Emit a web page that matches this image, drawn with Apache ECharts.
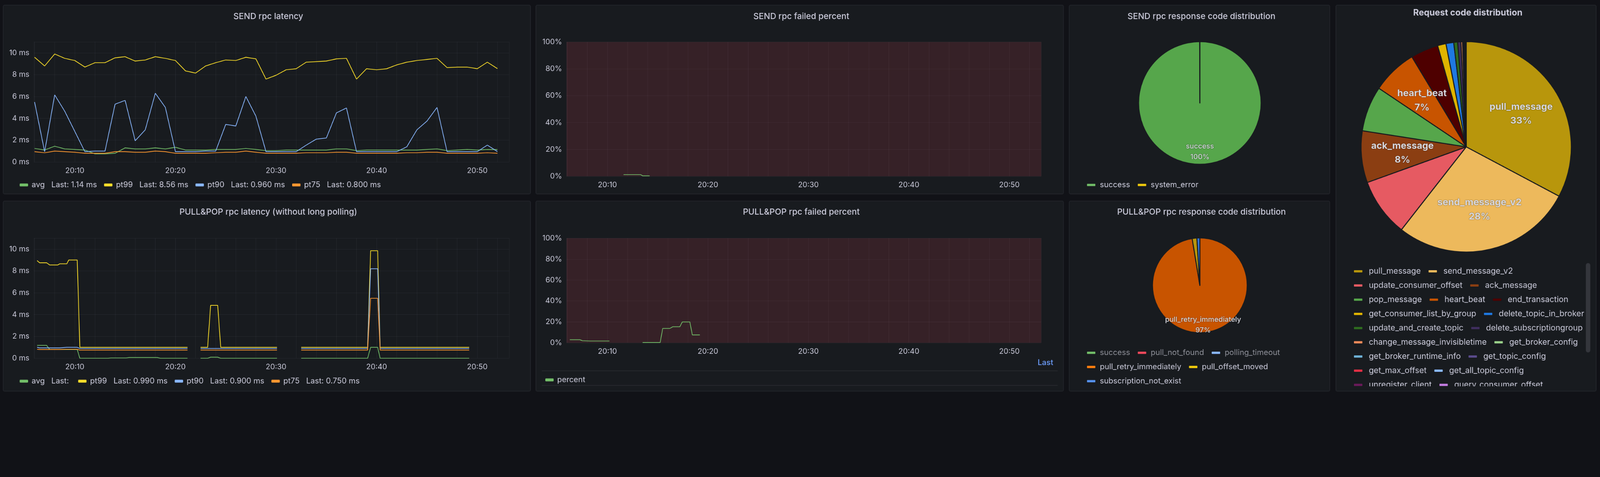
<!DOCTYPE html>
<html><head><meta charset="utf-8">
<script src="https://cdn.jsdelivr.net/npm/echarts@6/dist/echarts.min.js"></script>
<style>html,body{margin:0;padding:0;background:#111217;overflow:hidden;}#c{width:4962px;height:1220px;transform-origin:0 0;}</style>
</head><body><div id="c"></div>
<script>
// ---------- DATA ----------
const sendMinutes = [6,7,8,9,10,11,12,13,14,15,16,17,18,19,20,21,22,23,24,25,26,27,28,29,30,31,32,33,34,35,36,37,38,39,40,41,42,43,44,45,46,47,48,49,50,51,52];
const sendAvg  = [1.25,1.1,1.45,1.2,1.15,1.1,0.75,0.75,0.8,1.3,1.2,1.2,1.3,1.2,1.35,1.1,1.1,1.1,1.15,1.15,1.15,1.25,1.15,1.05,1.05,1.1,1.1,1.1,1.1,1.1,1.2,1.2,1.05,1.1,1.1,1.1,1.1,1.1,1.1,1.15,1.2,1.05,1.1,1.15,1.1,1.15,1.14];
const sendPt99 = [9.6,8.8,9.9,9.5,9.3,8.7,9.1,9.1,9.55,9.65,9.25,9.35,9.65,9.5,9.3,8.35,8.15,8.8,9.1,9.35,9.3,9.6,9.45,7.6,7.95,8.45,8.55,9.15,9.2,9.25,9.45,9.5,7.6,8.55,8.45,8.55,8.9,9.15,9.3,9.4,9.5,8.65,8.7,8.7,8.55,9.15,8.56];
const sendPt90 = [5.5,0.95,6.15,4.65,2.8,0.95,1.0,1.0,5.3,5.65,1.95,2.95,6.3,5.0,0.95,0.95,0.95,1.0,1.0,3.45,3.3,6.0,4.2,0.95,0.95,0.95,0.95,1.55,2.1,2.2,4.5,4.95,0.95,0.95,0.95,0.95,0.95,1.4,2.95,3.75,5.0,0.95,0.95,0.95,0.95,1.55,0.96];
const sendPt75 = [0.95,0.85,1.0,0.95,0.9,0.8,0.8,0.8,0.95,0.95,0.9,0.9,1.0,0.95,0.8,0.8,0.8,0.8,0.85,0.9,0.9,1.0,0.9,0.8,0.8,0.8,0.8,0.85,0.85,0.85,0.9,0.9,0.8,0.8,0.8,0.8,0.8,0.85,0.85,0.9,0.9,0.8,0.8,0.8,0.8,0.85,0.8];
const sendLast = ['1.14 ms','8.56 ms','0.960 ms','0.800 ms'];

const pullMinutes = [6.25,6.5,7.2,7.5,8.3,8.5,9.2,9.4,10.24,10.5,13.3,13.6,15.1,15.4,18.2,18.5,21.2,21.8,22.5,23.2,23.5,24.2,24.5,30.1,31.3,32.5,39.1,39.4,40.1,40.35,49.2];
const pullAvg  = [1.18,1.18,1.18,0.8,0.8,0.8,0.8,0.8,0.8,0,0,0.03,0.03,0.07,0.07,0,0,null,0,0,0.1,0.1,0,0,null,0,0,1.0,1.0,0,0];
const pullPt99 = [8.95,8.75,8.75,8.55,8.55,8.65,8.65,9.0,9.0,1.0,1.0,1.0,1.0,1.0,1.0,1.0,1.0,null,1.0,1.0,4.85,4.85,1.0,1.0,null,1.0,1.0,9.85,9.85,1.0,1.0];
const pullPt90 = [1.0,0.95,0.95,0.95,0.95,0.95,1.0,1.0,1.0,0.9,0.9,0.9,0.9,0.9,0.9,0.9,0.9,null,0.9,0.9,0.9,0.9,0.9,0.9,null,0.9,0.9,8.2,8.2,0.9,0.9];
const pullPt75 = [0.82,0.8,0.8,0.8,0.8,0.8,0.82,0.82,0.82,0.75,0.75,0.75,0.75,0.75,0.75,0.75,0.75,null,0.75,0.75,0.75,0.75,0.75,0.75,null,0.75,0.75,5.5,5.5,0.75,0.75];
const pullLast = ['','0.990 ms','0.900 ms','0.750 ms'];

const sendFailMinutes = [11.6,13.3,13.5,14.2];
const sendFailPct = [1.2,1.2,0.3,0.3];
const pullFailMinutes = [6.25,7.25,7.5,8.3,10.2,11,13.5,15.25,15.5,16.2,16.5,17.2,17.45,18.2,18.45,19.2];
const pullFailPct = [2.9,2.9,2.0,1.7,1.7,null,0.3,0.3,13.7,13.7,15.3,15.3,19.9,19.9,7.5,7.5];

const latencyNames = ['avg','pt99','pt90','pt75'];
const latencyColors = ['#73BF69','#FADE2A','#8AB8FF','#FF9830'];
const timeTicks = ['20:10','20:15','20:20','20:25','20:30','20:35','20:40','20:45','20:50'];

const sendCodeNames = ['success','system_error'];
const sendCodeValues = [99.95,0.05];
const sendCodeColors = ['#56A64B','#F2CC0C'];

const pullCodeNames = ['success','pull_not_found','polling_timeout','pull_retry_immediately','pull_offset_moved','subscription_not_exist'];
const pullCodeValues = [0,0,0,97.4,1.6,1.0];
const pullCodeColors = ['#73BF69','#F2495C','#8AB8FF','#C85400','#B8960C','#3274D9'];

const reqNames = ['pull_message','send_message_v2','update_consumer_offset','ack_message','pop_message','heart_beat','end_transaction','get_consumer_list_by_group','delete_topic_in_broker','update_and_create_topic','delete_subscriptiongroup','change_message_invisibletime','get_broker_config','get_broker_runtime_info','get_topic_config','get_max_offset','get_all_topic_config','unregister_client','query_consumer_offset'];
const reqValues = [33,28,9,8,7,7,4.3,1.3,1.2,0.6,0.5,0.25,0.15,0.12,0.1,0.08,0.06,0.03,0.02];
const reqColors = ['#B8960C','#EDB95C','#E65A62','#8B3E12','#56A64B','#C85400','#4E0000','#E0B400','#1F78E0','#2E6B1F','#3F2E5E','#F08A5A','#9AD18A','#6EB1D6','#5A4B8C','#E02F44','#8AB8FF','#6A1A5A','#C27CE0'];
const reqLegendRows = [[0,1],[2,3],[4,5,6],[7,8],[9,10],[11,12],[13,14],[15,16],[17,18]];

// ---------- HELPERS ----------
const BASE = Date.UTC(2024,0,1,20,0,0);
const t = m => BASE + m*60000;
const zip = (ms, vs) => ms.map((m,i)=>[t(m), vs[i]]);
const TXT = '#ccccdc', FONT = 'Inter';
const gridLine = {show:true, lineStyle:{color:'rgba(204,204,220,0.09)', width:1}};
const PANEL = '#181b1f';

const grids=[], xAxes=[], yAxes=[], series=[], titles=[], legends=[], graphics=[];

function panel(x,y,w,h){ graphics.push({type:'rect', shape:{x,y,width:w,height:h,r:4}, style:{fill:PANEL, stroke:'#24262c', lineWidth:2}, z:-10, silent:true}); }
function title(text,cx,cy,size,weight){ titles.push({text, left:cx, top:cy-16, textAlign:'center', textStyle:{color:TXT, fontSize:size||26, fontWeight:weight||500, fontFamily:FONT}}); }

function timeGrid(left,top,right,bottom,yMax,yInt,yFmt){
  const gi = grids.length;
  grids.push({left, top, width:right-left, height:bottom-top, containLabel:false});
  xAxes.push({type:'time', gridIndex:gi, min:t(5.93), max:t(53.17), splitNumber:10, minInterval:300000, maxInterval:300000,
    axisLine:{show:false}, axisTick:{show:false}, splitLine:gridLine,
    axisLabel:{color:TXT, fontSize:23, fontFamily:FONT, margin:16, showMinLabel:false, showMaxLabel:false, hideOverlap:false,
      formatter: v => { const d=new Date(v); const s=String(d.getUTCHours()).padStart(2,'0')+':'+String(d.getUTCMinutes()).padStart(2,'0'); return timeTicks.includes(s)?s:''; }}});
  yAxes.push({type:'value', gridIndex:gi, min:0, max:yMax, interval:yInt, axisLine:{show:false}, axisTick:{show:false}, splitLine:gridLine,
    axisLabel:{color:TXT, fontSize:23, fontFamily:FONT, margin:14, showMaxLabel: yMax===100, formatter:yFmt}});
  return gi;
}

// Panel backgrounds
panel(10,16,1635,585); panel(1662,16,1636,585); panel(3316,16,808,585);
panel(10,623,1635,589); panel(1662,623,1636,589); panel(3316,623,808,589);
panel(4143,16,807,1196);

// ---------- Latency panels ----------
function latencyPanel(left,top,bottom,ms,cols,names,lasts,legTop,ttl,tcy){
  title(ttl,827,tcy);
  const gi = timeGrid(left,top,1579,bottom,11,2,v=>v+' ms');
  cols.forEach((vals,i)=>{
    series.push({type:'line', name:names[i], xAxisIndex:gi, yAxisIndex:gi, data:zip(ms,vals), showSymbol:false, connectNulls:false,
      lineStyle:{width:2.2,color:latencyColors[i]}, itemStyle:{color:latencyColors[i]}, z:3+i});
  });
  const lastMap = {}; names.forEach((n,i)=>lastMap[n]=lasts[i]);
  legends.push({data:names, left:56, top:legTop, itemWidth:26, itemHeight:9, itemGap:22, icon:'roundRect',
    textStyle:{color:TXT, fontSize:24, fontFamily:FONT, padding:[0,0,0,6]},
    formatter:n=> n+'   Last: '+lastMap[n]});
}
latencyPanel(105,130,502,sendMinutes,[sendAvg,sendPt99,sendPt90,sendPt75],latencyNames,sendLast,556,'SEND rpc latency',49);
latencyPanel(105,738,1110,pullMinutes,[pullAvg,pullPt99,pullPt90,pullPt75],latencyNames.map(n=>n),pullLast,1164,'PULL&POP rpc latency (without long polling)',655);

// ---------- Failed percent panels ----------
function failPanel(top,bottom,ms,vals,ttl,tcy){
  title(ttl,2480,tcy);
  const gi = timeGrid(1757,top,3229,bottom,100,20,v=>v+'%');
  series.push({type:'line', name:'percent', xAxisIndex:gi, yAxisIndex:gi, data:zip(ms,vals), showSymbol:false, connectNulls:false,
    lineStyle:{width:2.2,color:'#73BF69'}, itemStyle:{color:'#73BF69'}, z:5,
    markArea:{silent:true, itemStyle:{color:'rgba(242,73,92,0.14)'}, data:[[{yAxis:0},{yAxis:100}]]}});
  return gi;
}
failPanel(130,546,sendFailMinutes,sendFailPct,'SEND rpc failed percent',49);
failPanel(738,1062,pullFailMinutes,pullFailPct,'PULL&POP rpc failed percent',655);
legends.push({data:['percent'], left:1686, top:1160, itemWidth:26, itemHeight:9, icon:'roundRect', textStyle:{color:TXT,fontSize:24,fontFamily:FONT,padding:[0,0,0,6]}});
graphics.push({type:'text', left:3218, top:1112, style:{text:'Last', fill:'#6E9FFF', font:'500 24px Inter'}, z:5});
graphics.push({type:'rect', shape:{x:1680,y:1148,width:1600,height:2}, style:{fill:'#2a2c31'}, z:5, silent:true});
graphics.push({type:'rect', shape:{x:1680,y:1193,width:1600,height:2}, style:{fill:'#2a2c31'}, z:5, silent:true});

// ---------- Pies ----------
function pie(names,vals,colors,center,r,labelR0,minPct,fs,fw){
  const data = names.map((n,i)=>({name:n, value:vals[i], itemStyle:{color:colors[i]}}));
  series.push({type:'pie', center, radius:[0,r], startAngle:90, clockwise:true, avoidLabelOverlap:false, label:{show:false}, labelLine:{show:false},
    itemStyle:{borderColor:PANEL, borderWidth:3}, data, minAngle:0, emphasis:{disabled:true}});
  series.push({type:'pie', center, radius:[r*labelR0,r], startAngle:90, clockwise:true, silent:true, avoidLabelOverlap:false, labelLine:{show:false},
    itemStyle:{color:'rgba(0,0,0,0)', borderWidth:0},
    label:{show:true, position:'inside', color:'#d8d9e0', fontSize:fs, fontWeight:fw, fontFamily:FONT, lineHeight:fs*1.5,
      textShadowColor:'rgba(0,0,0,0.6)', textShadowBlur:3,
      formatter:p=> p.percent>=minPct ? p.name+'\n'+Math.round(p.percent)+'%' : ''},
    data: names.map((n,i)=>({name:n, value:vals[i]})), emphasis:{disabled:true}});
}
title('SEND rpc response code distribution',3721,49);
pie(sendCodeNames,sendCodeValues,sendCodeColors,[3721,319],190,0.56,5,22,500);
legends.push({data:sendCodeNames.map((n,i)=>({name:n,itemStyle:{color:['#73BF69','#F2CC0C'][i]}})), left:3364, top:556, itemWidth:28, itemHeight:9, itemGap:22, icon:'roundRect',
  textStyle:{color:TXT,fontSize:24,fontFamily:FONT,padding:[0,0,0,8]}});

title('PULL&POP rpc response code distribution',3721,655);
pie(pullCodeNames,pullCodeValues,pullCodeColors,[3721,884],147,0.64,5,22,500);
const pullLegColors = ['#73BF69','#F2495C','#8AB8FF','#FF7F0E','#F2CC0C','#5794F2'];
[[0,1,2],[3,4],[5]].forEach((row,ri)=>{
  legends.push({data:row.map(i=>({name:pullCodeNames[i], itemStyle:{color:pullLegColors[i]}, textStyle:{color: pullCodeValues[i]>0?TXT:'#8e9099'}})),
    left:3364, top:1076+ri*44, itemWidth:28, itemHeight:9, itemGap:22, icon:'roundRect', textStyle:{color:TXT,fontSize:24,fontFamily:FONT,padding:[0,0,0,8]}});
});

title('Request code distribution',4547,37,27,700);
pie(reqNames,reqValues,reqColors,[4547,455],326,0.2,6,29,700);
reqLegendRows.forEach((row,ri)=>{
  legends.push({data:row.map(i=>({name:reqNames[i], itemStyle:{color:reqColors[i]}})), left:4192, top:823+ri*44, itemWidth:28, itemHeight:9, itemGap:22, icon:'roundRect',
    textStyle:{color:TXT,fontSize:25,fontFamily:FONT,padding:[0,0,0,14]}});
});
graphics.push({type:'rect', shape:{x:4150,y:1197,width:790,height:13}, style:{fill:PANEL}, z:100, silent:true});
graphics.push({type:'rect', shape:{x:4918,y:815,width:14,height:277,r:7}, style:{fill:'#34363c'}, z:100, silent:true});

// fit the 4962x1220 design into whatever the viewport really is
const el = document.getElementById('c');
const s = Math.min(window.innerWidth/4962, window.innerHeight/1220) || 1;
if (Math.abs(s-1) > 0.001) el.style.transform = 'scale('+s+')';
const chart = echarts.init(el, null, {renderer:'canvas'});
chart.setOption({backgroundColor:'#111217', animation:false, useUTC:true, textStyle:{fontFamily:FONT},
  title:titles, grid:grids, xAxis:xAxes, yAxis:yAxes, legend:legends, series, graphic:graphics});
</script></body></html>
